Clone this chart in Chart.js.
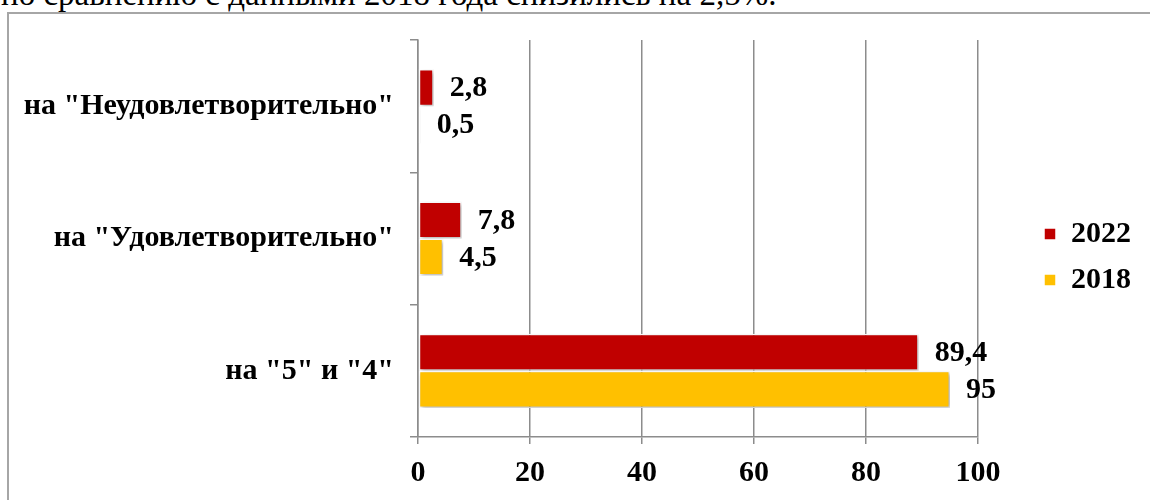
<!DOCTYPE html>
<html>
<head>
<meta charset="utf-8">
<script src="https://cdn.jsdelivr.net/npm/chart.js@4/dist/chart.umd.min.js"></script>
<style>
  html, body { margin: 0; padding: 0; background: #fff; width: 1150px; height: 500px; overflow: hidden; }
  #intro { position: absolute; left: 1px; top: -22px; font-family: "Liberation Serif", serif; font-size: 33px; line-height: 33px; color: #000; white-space: nowrap; }
  #frame { position: absolute; left: 7px; top: 12px; width: 1160px; height: 520px; border: 2px solid #a6a6a6; box-sizing: border-box; }
  #wrap { position: absolute; left: 0; top: 0; width: 1150px; height: 500px; }
</style>
</head>
<body>
<div id="intro">по сравнению с данными 2018 года снизились на 2,5%.</div>
<div id="frame"></div>
<div id="wrap"><canvas id="c" width="1150" height="500"></canvas></div>
<script>
const categories = ['на "Неудовлетворительно"', 'на "Удовлетворительно"', 'на "5" и "4"'];
const seriesNames = ['2022', '2018'];
const values2022 = [2.8, 7.8, 89.4];
const values2018 = [0.5, 4.5, 95];
const xTicks = [0, 20, 40, 60, 80, 100];

const RED = '#C00000';
const YELLOW = '#FFC000';
const GRID = '#8c8c8c';
const SERIF = '"Liberation Serif", "Times New Roman", serif';

const shadowPlugin = {
  id: 'barShadow',
  beforeDatasetsDraw(chart) {
    const ctx = chart.ctx;
    ctx.save();
    ctx.shadowColor = 'rgba(0,0,0,0.3)';
    ctx.shadowBlur = 4;
    ctx.shadowOffsetX = 2;
    ctx.shadowOffsetY = 2;
  },
  afterDatasetsDraw(chart) {
    chart.ctx.restore();
  }
};

const valueLabels = {
  id: 'valueLabels',
  afterDatasetsDraw(chart) {
    const ctx = chart.ctx;
    ctx.save();
    ctx.font = 'bold 30px ' + SERIF;
    ctx.fillStyle = '#000';
    ctx.textAlign = 'left';
    ctx.textBaseline = 'middle';
    chart.data.datasets.forEach((ds, di) => {
      const meta = chart.getDatasetMeta(di);
      meta.data.forEach((bar, i) => {
        const txt = String(ds.data[i]).replace('.', ',');
        ctx.fillText(txt, bar.x + 16, bar.y + 1);
      });
    });
    ctx.restore();
  }
};

new Chart(document.getElementById('c'), {
  type: 'bar',
  data: {
    labels: categories,
    datasets: [
      { label: seriesNames[0], data: values2022, backgroundColor: RED, borderColor: '#ffffff', borderWidth: 1.5, borderSkipped: false },
      { label: seriesNames[1], data: values2018, backgroundColor: YELLOW, borderColor: '#ffffff', borderWidth: 1.5, borderSkipped: false }
    ]
  },
  options: {
    indexAxis: 'y',
    responsive: false,
    animation: false,
    devicePixelRatio: 1,
    layout: { padding: { top: 40, left: 0, right: 9, bottom: 0 } },
    datasets: { bar: { categoryPercentage: 0.56, barPercentage: 1.0 } },
    scales: {
      x: {
        min: 0, max: 100,
        afterBuildTicks(scale) { scale.ticks = xTicks.map(v => ({ value: v })); },
        afterFit(scale) { scale.height = 63; },
        ticks: { font: { family: SERIF, size: 30, weight: 'bold' }, color: '#000', padding: 11 },
        grid: { color: GRID, lineWidth: 1.5, tickLength: 7 },
        border: { display: true, color: GRID, width: 1.5 }
      },
      y: {
        afterFit(scale) { scale.width = 418; },
        ticks: { font: { family: SERIF, size: 30, weight: 'bold' }, color: '#000', padding: 16 },
        grid: { offset: true, drawOnChartArea: false, color: GRID, lineWidth: 1.5, tickLength: 8 },
        border: { display: true, color: GRID, width: 1.5 }
      },
      spacer: {
        type: 'linear', axis: 'y', position: 'right', display: true,
        afterFit(scale) { scale.width = 50; },
        ticks: { display: false },
        grid: { display: false },
        border: { display: false }
      }
    },
    plugins: {
      legend: {
        position: 'right',
        align: 'start',
        title: { display: true, text: '', font: { size: 10 }, padding: { top: 75, bottom: 76 } },
        labels: {
          boxWidth: 12, boxHeight: 12, padding: 16,
          font: { family: SERIF, size: 30, weight: 'bold' }, color: '#000'
        }
      },
      tooltip: { enabled: false }
    }
  },
  plugins: [shadowPlugin, valueLabels]
});
</script>
</body>
</html>
